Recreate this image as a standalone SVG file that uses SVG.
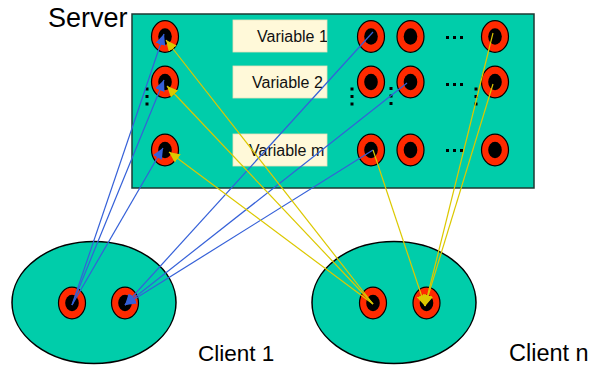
<svg xmlns="http://www.w3.org/2000/svg" width="589" height="366" viewBox="0 0 589 366">
  <style>
    .title { font-family: "Liberation Sans", Arial, sans-serif; fill: #000; }
    .panel { fill: #00CDAA; stroke: #1c3a33; stroke-width: 1.5; }
    .blob { fill: #00CDAA; stroke: #000; stroke-width: 1.5; }
    .ring { fill: #FF2A00; stroke: #000; stroke-width: 1.2; }
    .hole { fill: #000; }
    .tag { fill: #FFF9D9; stroke: #E9E1BC; stroke-width: 0.8; }
    .tagtext { font-family: "Liberation Sans", Arial, sans-serif; font-size: 16px; fill: #111; }
    .dot { fill: #000; }
    .blue { stroke: #3560D8; stroke-width: 1.2; fill: none; marker-end: url(#headBlue); }
    .yellow { stroke: #DCC800; stroke-width: 1.2; fill: none; marker-end: url(#headYellow); }
  </style>
  <defs>
    <marker id="headBlue" markerUnits="userSpaceOnUse" markerWidth="11" markerHeight="10" refX="11" refY="5" orient="auto">
      <path d="M0,0 L11,5 L0,10 z" fill="#3560D8"/>
    </marker>
    <marker id="headYellow" markerUnits="userSpaceOnUse" markerWidth="11" markerHeight="10" refX="11" refY="5" orient="auto">
      <path d="M0,0 L11,5 L0,10 z" fill="#DCC800"/>
    </marker>
    <clipPath id="tagClip">
      <rect x="233" y="0" width="94" height="200"/>
    </clipPath>
    <g id="port">
      <ellipse class="ring" cx="0" cy="0" rx="13.5" ry="15.8"/>
      <ellipse class="hole" cx="0" cy="0" rx="6.8" ry="8.2"/>
    </g>
  </defs>

  <!-- Server -->
  <g id="server">
    <rect class="panel" x="132" y="14" width="402" height="174"/>
    <text class="title" x="48" y="27" font-size="27">Server</text>

    <g id="server-ports">
      <use href="#port" x="165" y="36.5"/>
      <use href="#port" x="165" y="82"/>
      <use href="#port" x="165" y="150"/>

      <use href="#port" x="371" y="36.5"/>
      <use href="#port" x="410.5" y="36.5"/>
      <use href="#port" x="495" y="36.5"/>

      <use href="#port" x="371" y="82"/>
      <use href="#port" x="410.5" y="82"/>
      <use href="#port" x="495" y="82"/>

      <use href="#port" x="371" y="150"/>
      <use href="#port" x="410.5" y="150"/>
      <use href="#port" x="495" y="150"/>
    </g>

    <g id="server-ellipses">
      <rect class="dot" x="446" y="36" width="3" height="3"/>
      <rect class="dot" x="453" y="36" width="3" height="3"/>
      <rect class="dot" x="460" y="36" width="3" height="3"/>
      <rect class="dot" x="446" y="83" width="3" height="3"/>
      <rect class="dot" x="453" y="83" width="3" height="3"/>
      <rect class="dot" x="460" y="83" width="3" height="3"/>
      <rect class="dot" x="446" y="149" width="3" height="3"/>
      <rect class="dot" x="453" y="149" width="3" height="3"/>
      <rect class="dot" x="460" y="149" width="3" height="3"/>

      <rect class="dot" x="145.5" y="87.5" width="3" height="3"/>
      <rect class="dot" x="145.5" y="95" width="3" height="3"/>
      <rect class="dot" x="145.5" y="102.5" width="3" height="3"/>
      <rect class="dot" x="350.5" y="87.5" width="3" height="3"/>
      <rect class="dot" x="350.5" y="95" width="3" height="3"/>
      <rect class="dot" x="350.5" y="102.5" width="3" height="3"/>
      <rect class="dot" x="389.5" y="87" width="3" height="3"/>
      <rect class="dot" x="389.5" y="94.5" width="3" height="3"/>
      <rect class="dot" x="389.5" y="102" width="3" height="3"/>
      <rect class="dot" x="474.5" y="87.5" width="3" height="3"/>
      <rect class="dot" x="474.5" y="95" width="3" height="3"/>
      <rect class="dot" x="474.5" y="102.5" width="3" height="3"/>
    </g>
  </g>

  <g id="var-1">
    <rect class="tag" x="233" y="20" width="94" height="32"/>
    <text class="tagtext" x="257" y="42" clip-path="url(#tagClip)">Variable 1</text>
  </g>
  <g id="var-2">
    <rect class="tag" x="233" y="66" width="94" height="32"/>
    <text class="tagtext" x="252" y="88" clip-path="url(#tagClip)">Variable 2</text>
  </g>
  <g id="var-m">
    <rect class="tag" x="233" y="134" width="94" height="32"/>
    <text class="tagtext" x="249" y="156" clip-path="url(#tagClip)">Variable m</text>
  </g>

  <!-- Clients -->
  <g id="client-1">
    <ellipse class="blob" cx="94" cy="302.5" rx="82" ry="61"/>
    <use href="#port" x="72" y="303"/>
    <use href="#port" x="125" y="303"/>
    <text class="title" x="198" y="361" font-size="22.5">Client 1</text>
  </g>
  <g id="client-n">
    <ellipse class="blob" cx="394" cy="302.5" rx="82" ry="61"/>
    <use href="#port" x="373" y="303"/>
    <use href="#port" x="426.5" y="303"/>
    <text class="title" x="509" y="361" font-size="23.5">Client n</text>
  </g>

  <!-- Connectors -->
  <g id="connectors">
    <line class="blue" x1="72" y1="305" x2="164" y2="34"/>
    <line class="blue" x1="72" y1="305" x2="164" y2="80"/>
    <line class="blue" x1="72" y1="305" x2="163" y2="148"/>
    <line class="blue" x1="373" y1="32" x2="125" y2="305"/>
    <line class="blue" x1="407" y1="83" x2="125" y2="305"/>
    <line class="blue" x1="373" y1="150" x2="125" y2="305"/>

    <line class="yellow" x1="373" y1="304" x2="166" y2="40"/>
    <line class="yellow" x1="373" y1="304" x2="167" y2="86"/>
    <line class="yellow" x1="373" y1="304" x2="169" y2="152"/>
    <line class="yellow" x1="373" y1="150" x2="425" y2="306"/>
    <line class="yellow" x1="493" y1="33" x2="425" y2="306"/>
    <line class="yellow" x1="493" y1="84" x2="425" y2="306"/>
  </g>
</svg>
